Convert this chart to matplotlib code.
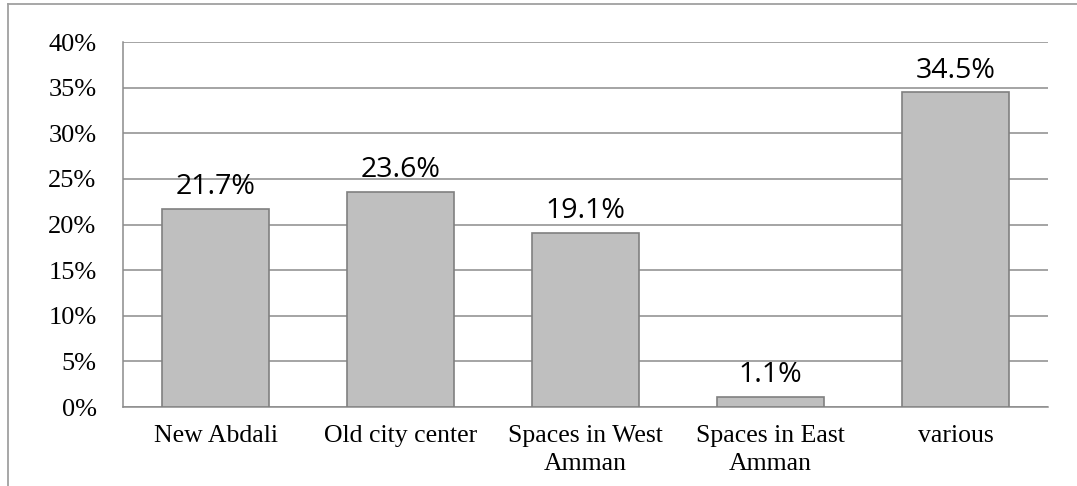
import matplotlib.pyplot as plt
from matplotlib.lines import Line2D

categories = ["New Abdali", "Old city center", "Spaces in West\nAmman",
              "Spaces in East\nAmman", "various"]
values = [21.7, 23.6, 19.1, 1.1, 34.5]
yticks = [0, 5, 10, 15, 20, 25, 30, 35, 40]

fig = plt.figure(figsize=(10.77, 4.86), dpi=100)
ax = fig.add_axes([123 / 1077, 1 - 407 / 486, (1048 - 123) / 1077, (407 - 42) / 486])

x = range(len(categories))
bars = ax.bar(x, values, width=0.575, color="#bfbfbf", edgecolor="#808080",
              linewidth=1.2, zorder=3)

for b, v in zip(bars, values):
    ax.annotate(f"{v:.1f}%", (b.get_x() + b.get_width() / 2, v),
                xytext=(0, 5.5), textcoords="offset points", ha="center", va="bottom",
                fontsize=20.5, family="Open Sans", color="#000000")

ax.set_xlim(-0.5, len(categories) - 0.5)
ax.set_ylim(0, 40)
ax.set_yticks(yticks)
ax.set_yticklabels([f"{t}%" for t in yticks], family="Liberation Serif", fontsize=19)
ax.set_xticks(list(x))
ax.set_xticklabels(categories, family="Liberation Serif", fontsize=18.5,
                   linespacing=1.35)
ax.tick_params(axis="y", length=0, pad=19)
ax.tick_params(axis="x", length=0, pad=13)

ax.grid(axis="y", color="#8c8c8c", linewidth=1.1, zorder=0)
for s in ["top", "right"]:
    ax.spines[s].set_visible(False)
ax.spines["left"].set_color("#8c8c8c")
ax.spines["bottom"].set_color("#8c8c8c")
ax.spines["left"].set_linewidth(1.1)
ax.spines["bottom"].set_linewidth(1.1)

# outer chart border (left and top visible)
fig.add_artist(Line2D([8 / 1077, 8 / 1077], [0, 1 - 4 / 486], color="#a0a0a0",
                      linewidth=1.3, transform=fig.transFigure))
fig.add_artist(Line2D([8 / 1077, 1], [1 - 4 / 486, 1 - 4 / 486], color="#a0a0a0",
                      linewidth=1.3, transform=fig.transFigure))

fig.savefig("out.png", dpi=100)
